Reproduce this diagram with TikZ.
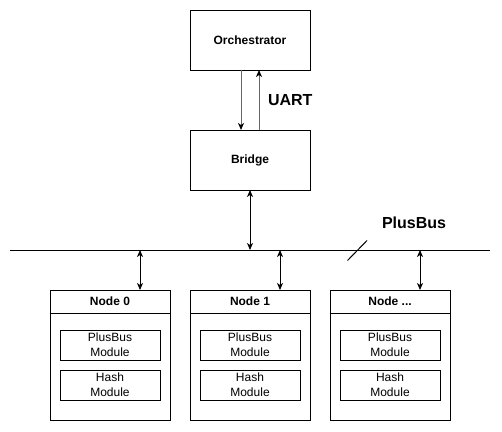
\documentclass[tikz,border=0pt]{standalone}
\usepackage{fontspec}
\setmainfont{Liberation Sans}
\usetikzlibrary{arrows.meta,calc}
\newcommand\myellip{...}
\begin{document}
\begin{tikzpicture}[x=1pt,y=-1pt,
  every node/.style={inner sep=0pt, outer sep=0pt, line width=1pt},
  box/.style={draw, fill=white, minimum width=120pt, minimum height=60pt, font=\bfseries\fontsize{12}{14}\selectfont},
  nodebox/.style={draw, fill=white, minimum width=120pt, minimum height=130pt},
  hdr/.style={font=\bfseries\fontsize{12}{14}\selectfont},
  inner/.style={draw, minimum width=100pt, minimum height=30pt, align=center, font=\fontsize{12}{15}\selectfont},
  lbl/.style={font=\bfseries\fontsize{16}{18}\selectfont},
  uni/.style={line width=1pt, draw=black!60, -{Stealth[length=7pt,width=6pt,inset=2pt,color=black]}},
  dbl/.style={line width=1pt, {Stealth[length=7pt,width=6pt,inset=2pt]}-{Stealth[length=7pt,width=6pt,inset=2pt]}},
  plain/.style={line width=1pt}
]
\useasboundingbox (0,0) rectangle (502,431);

\node[box] (orch) at (250,40) {Orchestrator};
\node[box] (bridge) at (250,160) {Bridge};

\draw[uni] ([xshift=-9pt]orch.south) -- ([xshift=-9pt]bridge.north);
\draw[uni] ([xshift=9pt]bridge.north) -- ([xshift=9pt]orch.south);
\node[lbl, anchor=west] (uart) at (268,100) {UART};

\coordinate (busL) at (10,250);
\coordinate (busR) at (490,250);
\draw[plain] (busL) -- (busR);
\coordinate (slA) at (347.5,260.5);
\coordinate (slB) at (367,240.5);
\draw[plain] (slA) -- (slB);
\node[lbl] (plusbus) at (414,223) {PlusBus};

\coordinate (bb) at (250,250);
\draw[dbl] (bridge.south) -- (bb);

\foreach \i/\cx/\t in {0/110/Node 0, 1/250/Node 1, 2/390/Node \myellip}{
  \node[nodebox] (n\i) at (\cx,355) {};
  \node[hdr] (h\i) at ($(n\i.north)+(0,11.5)$) {\t};
  \draw[plain] ($(n\i.north west)+(0,23)$) -- ($(n\i.north east)+(0,23)$);
  \node[inner] (pb\i) at (\cx,345) {PlusBus\\Module};
  \node[inner] (hm\i) at (\cx,385) {Hash\\Module};
  \coordinate (b\i) at ($(\cx,250)+(30,0)$);
  \draw[dbl] (b\i) -- (b\i |- n\i.north);
}
\end{tikzpicture}
\end{document}
